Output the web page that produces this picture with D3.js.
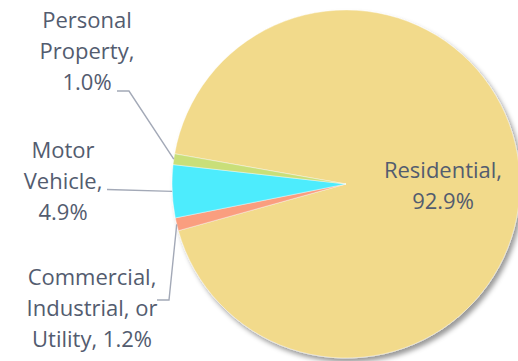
<!DOCTYPE html>
<html>
<head>
<meta charset="utf-8">
<script src="https://cdn.jsdelivr.net/npm/d3@7/dist/d3.min.js"></script>
<style>
  html, body { margin: 0; padding: 0; background: #ffffff; overflow: hidden; }
  svg { display: block; }
  text { font-family: "Open Sans", "Noto Sans", sans-serif; fill: #535c6f; }
</style>
</head>
<body>
<svg id="chart" width="518" height="361"></svg>
<script>
// Share of claims by property type (percent)
const categories = ["Residential", "Commercial, Industrial, or Utility", "Motor Vehicle", "Personal Property"];
const values = [92.9, 1.2, 4.9, 1.0];
// How each label is broken into lines; the value is appended to the last line or placed on its own line
const labelLines = [
  ["Residential,"],
  ["Commercial,", "Industrial, or", "Utility,"],
  ["Motor", "Vehicle,"],
  ["Personal", "Property,"]
];
const valueOnOwnLine = [true, false, true, true];
const colors = ["#f2da8b", "#fa9e7f", "#4decfd", "#c9df79"];

const width = 518, height = 361;
const cx = 346, cy = 184, radius = 174;
const lineStep = 31;
const fontSize = 22;

// label layout: anchor x, first baseline, and leader-line bend points (null = label sits inside)
const layout = [
  { x: 443, y: 178, leader: null },
  { x: 92, y: 285, leader: [[157, 300], [169, 300]] },
  { x: 63, y: 158, leader: [[107, 189.5]] },
  { x: 87, y: 28, leader: [[117, 91], [129, 91]] }
];

const svg = d3.select("#chart");

const defs = svg.append("defs");
const shadow = defs.append("filter").attr("id", "pieShadow")
  .attr("x", "-10%").attr("y", "-10%").attr("width", "130%").attr("height", "130%");
shadow.append("feDropShadow")
  .attr("dx", 3).attr("dy", 4).attr("stdDeviation", 2.5)
  .attr("flood-color", "#000").attr("flood-opacity", 0.4);

const startAngle = 280 * Math.PI / 180;
const pie = d3.pie().sort(null).value(d => d)
  .startAngle(startAngle).endAngle(startAngle + 2 * Math.PI);
const arcs = pie(values);
const arc = d3.arc().innerRadius(0).outerRadius(radius);

const g = svg.append("g").attr("transform", `translate(${cx},${cy})`).attr("filter", "url(#pieShadow)");
g.selectAll("path").data(arcs).join("path")
  .attr("d", arc)
  .attr("fill", (d, i) => colors[i])
  .attr("stroke", "#ffffff")
  .attr("stroke-width", 0.4);

// leader lines from the label to the middle of each slice's rim
const line = d3.line();
arcs.forEach((d, i) => {
  const L = layout[i];
  if (!L.leader) return;
  const mid = (d.startAngle + d.endAngle) / 2;
  const edge = [cx + radius * Math.sin(mid), cy - radius * Math.cos(mid)];
  svg.append("path")
    .attr("d", line([...L.leader, edge]))
    .attr("fill", "none")
    .attr("stroke", "#a3a9b7")
    .attr("stroke-width", 1.4);
});

// data labels
arcs.forEach((d, i) => {
  const L = layout[i];
  const valText = d3.format(".1f")(values[i]) + "%";
  const lines = labelLines[i].slice();
  if (valueOnOwnLine[i]) lines.push(valText);
  else lines[lines.length - 1] += " " + valText;
  const t = svg.append("text")
    .attr("text-anchor", "middle")
    .attr("font-size", fontSize);
  lines.forEach((s, k) => {
    t.append("tspan").attr("x", L.x).attr("y", L.y + k * lineStep).text(s);
  });
});
</script>
</body>
</html>
